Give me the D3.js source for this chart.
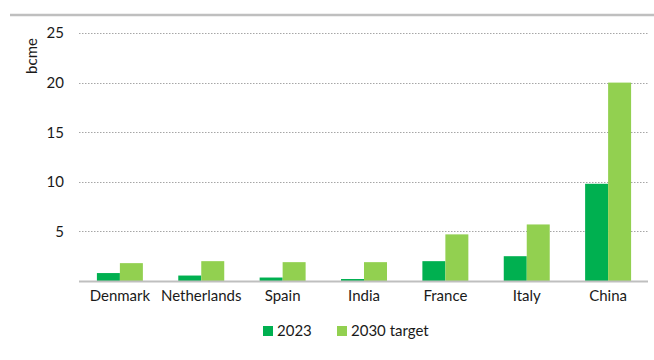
<!DOCTYPE html>
<html>
<head>
<meta charset="utf-8">
<script src="https://cdn.jsdelivr.net/npm/d3@7"></script>
<style>
  html, body { margin: 0; padding: 0; background: #fff; }
  svg { display: block; }
  text { font-family: Lato, "Open Sans", sans-serif; fill: #1a1a1a; }
</style>
</head>
<body>
<svg id="chart" width="654" height="360"></svg>
<script>
// Biomethane production by country, bcme
const countries = ["Denmark", "Netherlands", "Spain", "India", "France", "Italy", "China"];
const seriesNames = ["2023", "2030 target"];
const values2023 = [0.8, 0.55, 0.35, 0.2, 2.0, 2.5, 9.8];
const values2030 = [1.8, 2.0, 1.9, 1.9, 4.7, 5.7, 20];
const yTicks = [5, 10, 15, 20, 25];
const colors = ["#00b050", "#92d050"];

const svg = d3.select("#chart");
const margin = { left: 79, right: 649, top: 33, bottom: 281 };

const x = d3.scaleBand().domain(countries).range([margin.left, margin.right]).paddingInner(0.435).paddingOuter(0.22);
const xs = d3.scaleBand().domain(seriesNames).range([0, x.bandwidth()]);
const y = d3.scaleLinear().domain([0, 25]).range([margin.bottom, margin.top]);

// top rule
svg.append("line").attr("x1", 10).attr("x2", 654).attr("y1", 15).attr("y2", 15)
  .attr("stroke", "#bfbfbf").attr("stroke-width", 2.5);

// dotted gridlines
svg.append("g").selectAll("line").data(yTicks).join("line")
  .attr("x1", margin.left).attr("x2", 648)
  .attr("y1", d => Math.round(y(d)) + 0.5).attr("y2", d => Math.round(y(d)) + 0.5)
  .attr("stroke", "#a6a6a6").attr("stroke-width", 1).attr("stroke-dasharray", "1.5,1.5");

// y axis labels
const yAxis = d3.axisLeft(y).tickValues(yTicks).tickSize(0).tickPadding(0).tickFormat(d3.format("d"));
svg.append("g").attr("transform", "translate(64,0)").call(yAxis)
  .call(g => g.select(".domain").remove())
  .call(g => g.selectAll("text").attr("font-size", 15).attr("fill", "#1a1a1a")
    .style("font-family", "Lato, 'Open Sans', sans-serif"));

svg.append("text").attr("transform", "translate(37,56) rotate(-90)")
  .attr("text-anchor", "middle").attr("font-size", 15).text("bcme");

// bars
const rows = countries.map((c, i) => ({ country: c, vals: [values2023[i], values2030[i]] }));
svg.append("g").selectAll("g").data(rows).join("g")
  .attr("transform", d => `translate(${x(d.country)},0)`)
  .selectAll("rect").data(d => d.vals.map((v, j) => ({ key: seriesNames[j], v, j })))
  .join("rect")
  .attr("x", d => xs(d.key)).attr("width", xs.bandwidth())
  .attr("y", d => y(d.v)).attr("height", d => y(0) - y(d.v))
  .attr("fill", d => colors[d.j]);

// baseline
svg.append("line").attr("x1", margin.left).attr("x2", 648)
  .attr("y1", y(0) + 0.5).attr("y2", y(0) + 0.5)
  .attr("stroke", "#bfbfbf").attr("stroke-width", 2);

// category axis
const xAxis = d3.axisBottom(x).tickSize(0).tickPadding(0);
svg.append("g").attr("transform", `translate(0,${y(0) + 9})`).call(xAxis)
  .call(g => g.select(".domain").remove())
  .call(g => g.selectAll("text").attr("font-size", 15).attr("fill", "#1a1a1a")
    .style("font-family", "Lato, 'Open Sans', sans-serif"));

// legend
const legendItems = [{ name: seriesNames[0], x: 263 }, { name: seriesNames[1], x: 337 }];
const lg = svg.append("g").selectAll("g").data(legendItems).join("g")
  .attr("transform", (d, i) => `translate(${d.x},326)`);
lg.append("rect").attr("width", 10).attr("height", 10).attr("fill", (d, i) => colors[i]);
lg.append("text").attr("x", 14).attr("y", 10).attr("font-size", 15).text(d => d.name);
</script>
</body>
</html>
